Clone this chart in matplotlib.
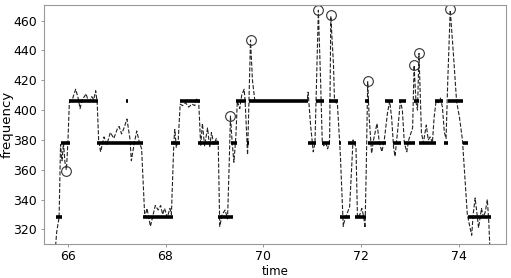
import numpy as np
import matplotlib.pyplot as plt

# raw frequency trace (time, frequency)
trace_t = [65.74, 65.77, 65.79, 65.82, 65.85, 65.88, 65.91, 65.94, 65.97, 66.00,
           66.03, 66.05, 66.10, 66.16, 66.21, 66.25, 66.30, 66.34, 66.37, 66.41,
           66.44, 66.49, 66.53, 66.57, 66.60, 66.63, 66.67, 66.74, 66.80, 66.87,
           66.94, 67.02, 67.05, 67.10, 67.15, 67.21, 67.27, 67.30, 67.35, 67.41,
           67.46, 67.51, 67.545, 67.575, 67.62, 67.69, 67.74, 67.79, 67.85, 67.90,
           67.94, 67.98, 68.035, 68.09, 68.12, 68.17, 68.19, 68.22, 68.26, 68.30,
           68.35, 68.41, 68.475, 68.54, 68.60, 68.64, 68.68, 68.72, 68.755, 68.80,
           68.86, 68.905, 68.94, 68.99, 69.04, 69.08, 69.095, 69.11, 69.16, 69.22,
           69.27, 69.30, 69.33, 69.365, 69.40, 69.44, 69.47, 69.52, 69.56, 69.61,
           69.63, 69.68, 69.74, 69.78, 69.83, 70.00, 70.50, 70.90, 70.92, 70.97,
           71.025, 71.06, 71.13, 71.175, 71.21, 71.24, 71.28, 71.32, 71.36, 71.385,
           71.44, 71.46, 71.52, 71.58, 71.64, 71.65, 71.71, 71.77, 71.84, 71.90,
           71.93, 71.98, 72.02, 72.06, 72.085, 72.11, 72.14, 72.17, 72.22, 72.26,
           72.33, 72.38, 72.43, 72.48, 72.545, 72.59, 72.63, 72.67, 72.70, 72.75,
           72.81, 72.85, 72.89, 72.94, 72.98, 73.02, 73.06, 73.09, 73.13, 73.16,
           73.19, 73.24, 73.28, 73.34, 73.38, 73.42, 73.465, 73.50, 73.54, 73.59,
           73.63, 73.67, 73.71, 73.745, 73.78, 73.83, 73.89, 73.96, 74.02, 74.08,
           74.12, 74.18, 74.23, 74.27, 74.30, 74.34, 74.38, 74.41, 74.45, 74.47,
           74.51, 74.55, 74.59, 74.62, 74.645]
trace_f = [305, 318, 322, 328, 377, 366, 378, 365, 360, 378,
           405, 406, 408, 414, 408, 401, 408, 409, 411, 407,
           406, 409, 407, 413, 405, 380, 372, 382, 377, 385,
           381, 388, 389, 384, 388, 394, 381, 366, 376, 386,
           379, 374, 350, 328, 334, 322, 329, 336, 333, 336,
           330, 334, 328, 334, 330, 378, 387, 375, 380, 404,
           403, 405, 402, 404, 403, 408, 405, 376, 391, 376,
           388, 375, 385, 377, 381, 376, 350, 322, 330, 333,
           327, 360, 396, 378, 365, 382, 406, 401, 410, 414,
           406, 370, 447, 420, 406, 406, 406, 406, 412, 390,
           372, 378, 467, 420, 378, 376, 378, 374, 380, 463,
           430, 406, 404, 370, 322, 324, 330, 335, 380, 375,
           328, 330, 334, 328, 321, 360, 419, 395, 371, 380,
           391, 378, 372, 380, 398, 406, 395, 375, 369, 385,
           406, 400, 378, 372, 380, 384, 388, 430, 405, 400,
           438, 385, 378, 390, 380, 382, 378, 395, 406, 405,
           408, 402, 385, 381, 420, 467, 440, 406, 395, 380,
           360, 330, 322, 316, 330, 341, 330, 321, 330, 334,
           328, 332, 340, 325, 305]

# quantized notes: segment start, end, level
seg_start = [65.76, 65.85, 66.02, 66.60, 67.19, 67.53, 68.12, 68.29, 68.67, 69.08,
             69.34, 69.44, 69.66, 69.70, 70.92, 71.09, 71.21, 71.35, 71.55, 71.58,
             71.73, 71.87, 72.08, 72.14, 72.50, 72.65, 72.79, 72.89, 73.08, 73.20,
             73.52, 73.71, 73.78, 74.09, 74.19]
seg_end = [65.88, 66.04, 66.61, 67.54, 67.24, 68.15, 68.29, 68.70, 69.10, 69.38,
           69.47, 69.64, 69.70, 70.92, 71.09, 71.25, 71.37, 71.54, 71.60, 71.77,
           71.90, 72.11, 72.17, 72.52, 72.65, 72.83, 72.93, 73.10, 73.20, 73.54,
           73.69, 73.78, 74.09, 74.19, 74.66]
seg_level = [328, 378, 406, 378, 406, 328, 378, 406, 378, 328,
             378, 406, 378, 406, 378, 406, 378, 406, 378, 328,
             378, 328, 406, 378, 406, 378, 406, 378, 406, 378,
             406, 378, 406, 378, 328]

# flagged peaks
peak_t = [65.97, 69.33, 69.74, 71.13, 71.385, 72.14, 73.09, 73.19, 73.83]
peak_f = [359, 396, 447, 467, 463.5, 419.5, 430, 438.5, 467.5]

fig = plt.figure(figsize=(5.11, 2.78), dpi=100)
ax = fig.add_axes([0.086, 0.1215, 0.904, 0.8605])

ax.plot(trace_t, trace_f, linestyle="--", color="#222222", linewidth=0.8)
ax.hlines(seg_level, seg_start, seg_end, color="black", linewidth=2.6)
ax.plot(peak_t, peak_f, "o", markerfacecolor="none", markeredgecolor="#333333",
        markersize=7, markeredgewidth=0.8)

ax.set_xlim(65.51, 74.97)
ax.set_ylim(310, 470.5)
ax.set_xticks([66, 68, 70, 72, 74])
ax.set_yticks([320, 340, 360, 380, 400, 420, 440, 460])
ax.tick_params(labelsize=9, length=2.5, width=0.6, color="#888888")
ax.tick_params(axis="x", pad=1.5)
ax.tick_params(axis="y", pad=2.5)
for s in ax.spines.values():
    s.set_color("#999999")
    s.set_linewidth(0.8)
ax.set_xlabel("time", fontsize=8.5)
ax.set_ylabel("frequency", fontsize=9.5)
ax.xaxis.set_label_coords(0.5, -0.085)
ax.yaxis.set_label_coords(-0.066, 0.5)

fig.savefig("out.png", dpi=100)
